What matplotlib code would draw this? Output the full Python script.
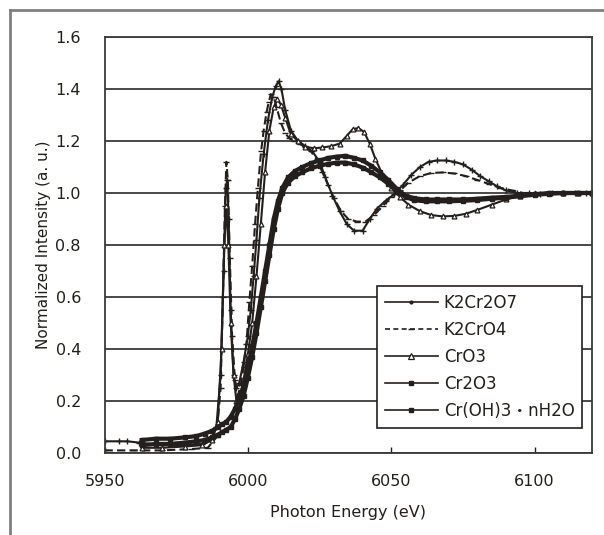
import matplotlib
matplotlib.use("Agg")
import matplotlib.pyplot as plt
from matplotlib.lines import Line2D

plt.rcParams['font.family'] = ['DejaVu Sans', 'Noto Sans CJK JP']

# ---------------- data ----------------
e_k2cr2o7 = [5950, 5955, 5958, 5962, 5970, 5978, 5984, 5987, 5989, 5990.5, 5991.5, 5992.3,
             5992.8, 5993.3, 5994, 5995, 5996, 5997, 5998.5, 6000, 6001, 6002, 6003, 6004,
             6005.5, 6007, 6008.5, 6009.7, 6010.7, 6011.7, 6013, 6015, 6017.5, 6020, 6022.5,
             6025, 6027, 6029.5, 6032, 6034.5, 6037, 6040, 6042.5, 6045, 6048, 6051, 6054,
             6057, 6060, 6063, 6066, 6069, 6072, 6075, 6078, 6081, 6084, 6087, 6090, 6094,
             6098, 6102, 6106, 6110, 6114, 6118, 6120]
i_k2cr2o7 = [0.045, 0.045, 0.045, 0.04, 0.03, 0.03, 0.035, 0.05, 0.1, 0.3, 0.7, 1.02,
             1.05, 0.9, 0.55, 0.3, 0.25, 0.27, 0.35, 0.45, 0.55, 0.68, 0.82, 0.98,
             1.15, 1.28, 1.37, 1.41, 1.43, 1.40, 1.32, 1.24, 1.2, 1.18, 1.16,
             1.12, 1.06, 0.99, 0.93, 0.88, 0.855, 0.855, 0.9, 0.94, 0.97, 0.995, 1.03,
             1.07, 1.10, 1.12, 1.125, 1.125, 1.12, 1.11, 1.09, 1.065, 1.045, 1.025, 1.01, 1.0,
             1.0, 0.995, 1.0, 1.0, 1.0, 1.0, 1.0]

e_k2cro4 = [5950, 5960, 5970, 5980, 5986, 5989, 5990.5, 5991.3, 5992, 5992.5, 5993, 5993.7,
            5994.5, 5995.5, 5996.5, 5997.5, 5998.5, 5999.5, 6000.5, 6001.5, 6002.5, 6003.5,
            6004.6, 6005.5, 6006.5, 6007.3, 6008, 6009, 6010, 6011.5, 6013, 6014.5, 6016,
            6018, 6020, 6022, 6024, 6026, 6028, 6030, 6032.5, 6035, 6038, 6041, 6044, 6047,
            6050, 6053, 6056, 6060, 6064, 6068, 6072, 6076, 6080, 6084, 6088, 6092, 6096,
            6100, 6105, 6110, 6115, 6120]
i_k2cro4 = [0.01, 0.01, 0.01, 0.015, 0.02, 0.06, 0.25, 0.6, 0.95, 1.12, 1.05, 0.75,
            0.45, 0.28, 0.22, 0.26, 0.33, 0.42, 0.58, 0.72, 0.88, 1.02,
            1.16, 1.24, 1.31, 1.35, 1.38, 1.37, 1.33, 1.27, 1.23, 1.21, 1.2,
            1.19, 1.175, 1.16, 1.13, 1.08, 1.03, 0.98, 0.93, 0.90, 0.89, 0.89, 0.915, 0.95,
            0.985, 1.01, 1.04, 1.065, 1.077, 1.079, 1.075, 1.065, 1.05, 1.035, 1.02, 1.01, 1.0,
            1.0, 1.0, 1.0, 1.0, 1.0]

e_cro3 = [5963, 5970, 5978, 5984, 5987.5, 5989.5, 5990.8, 5991.8, 5992.5, 5993.2, 5994, 5995,
          5996, 5997, 5998.5, 6000, 6001.5, 6003, 6004.5, 6006, 6007.5, 6009, 6010.3, 6011.5,
          6013, 6015, 6017.5, 6020, 6023, 6026, 6029, 6032, 6034.5, 6036.5, 6038.5, 6040.5,
          6042.5, 6044.5, 6047, 6050, 6053, 6056, 6060, 6064, 6068, 6072, 6076, 6080, 6085,
          6090, 6095, 6100, 6105, 6110, 6115, 6120]
i_cro3 = [0.02, 0.02, 0.025, 0.03, 0.05, 0.12, 0.4, 0.8, 0.95, 0.8, 0.5, 0.3,
          0.2, 0.2, 0.28, 0.38, 0.5, 0.68, 0.88, 1.08, 1.24, 1.33, 1.36, 1.34,
          1.29, 1.225, 1.2, 1.178, 1.172, 1.175, 1.18, 1.19, 1.22, 1.245, 1.25, 1.235,
          1.19, 1.13, 1.07, 1.02, 0.985, 0.955, 0.93, 0.915, 0.91, 0.912, 0.92, 0.935, 0.955,
          0.975, 0.99, 1.0, 1.0, 1.0, 1.0, 1.0]

e_cr2o3 = [5963, 5968, 5973, 5978, 5982, 5985, 5987.5, 5989.5, 5991, 5992.5, 5994, 5995.5,
           5997, 5998.5, 6000, 6001.5, 6003, 6004.5, 6006, 6007.5, 6009, 6010.5, 6012, 6014,
           6016.5, 6019, 6022, 6025, 6028, 6031, 6034, 6037, 6040, 6043, 6046, 6049, 6052,
           6055, 6058, 6062, 6066, 6070, 6075, 6080, 6085, 6090, 6095, 6100, 6105, 6110,
           6115, 6120]
i_cr2o3 = [0.05, 0.055, 0.055, 0.06, 0.065, 0.075, 0.085, 0.1, 0.11, 0.12, 0.14, 0.17,
           0.21, 0.26, 0.33, 0.41, 0.5, 0.6, 0.7, 0.8, 0.9, 0.97, 1.02, 1.06,
           1.085, 1.10, 1.115, 1.125, 1.135, 1.14, 1.143, 1.135, 1.125, 1.105, 1.08, 1.05, 1.015,
           0.99, 0.98, 0.975, 0.975, 0.975, 0.975, 0.978, 0.982, 0.985, 0.99, 0.995, 1.0, 1.0,
           1.0, 1.0]

e_croh3 = [5963, 5968, 5973, 5978, 5982, 5985, 5987.5, 5989.5, 5991, 5992.5, 5994, 5995.5,
           5997, 5998.5, 6000, 6001.5, 6003, 6004.5, 6006, 6007.5, 6009, 6010.5, 6012, 6014,
           6016.5, 6019, 6022, 6025, 6028, 6031, 6034, 6037, 6040, 6043, 6046, 6049, 6052,
           6055, 6058, 6062, 6066, 6070, 6075, 6080, 6085, 6090, 6095, 6100, 6105, 6110,
           6115, 6120]
i_croh3 = [0.03, 0.035, 0.035, 0.04, 0.045, 0.05, 0.06, 0.07, 0.08, 0.09, 0.1, 0.13,
           0.17, 0.22, 0.29, 0.37, 0.46, 0.56, 0.66, 0.76, 0.86, 0.94, 1.0, 1.04,
           1.065, 1.08, 1.095, 1.105, 1.112, 1.117, 1.117, 1.11, 1.098, 1.08, 1.06, 1.035, 1.005,
           0.985, 0.972, 0.968, 0.968, 0.968, 0.97, 0.973, 0.978, 0.982, 0.988, 0.993, 0.997, 1.0,
           1.0, 1.0]

labels = ["K2Cr2O7", "K2CrO4", "CrO3", "Cr2O3", "Cr(OH)3・nH2O"]
x_ticks = [5950, 6000, 6050, 6100]
y_ticks = [0.0, 0.2, 0.4, 0.6, 0.8, 1.0, 1.2, 1.4, 1.6]

# ---------------- figure ----------------
ink = '#231f1c'
fig = plt.figure(figsize=(6.04, 5.35), dpi=100)
ax = fig.add_axes([104.5 / 604, (535 - 453) / 535, (592 - 104.5) / 604, (453 - 37) / 535])

styles = [
    dict(lw=1.5, marker='+', ms=4, mew=1.0),
    dict(lw=1.5, ls=(0, (4, 2)), marker='_', ms=4, mew=1.0),
    dict(lw=1.5, marker='^', ms=3.5, mfc='white', mew=0.9),
    dict(lw=3.0, marker='s', ms=2.5),
    dict(lw=3.0, marker='s', ms=2.5),
]
series = [(e_k2cr2o7, i_k2cr2o7), (e_k2cro4, i_k2cro4), (e_cro3, i_cro3),
          (e_cr2o3, i_cr2o3), (e_croh3, i_croh3)]
for (ex, iy), st in zip(series, styles):
    ax.plot(ex, iy, color=ink, **st)

# legend handles (thin lines as in the reference legend)
handles = [
    Line2D([], [], color=ink, lw=1.2, marker='.', ms=4),
    Line2D([], [], color=ink, lw=1.2, ls=(0, (3, 2)), marker='_', ms=4),
    Line2D([], [], color=ink, lw=1.2, marker='^', ms=4, mfc='white', mew=0.9),
    Line2D([], [], color=ink, lw=1.2, marker='s', ms=2.5),
    Line2D([], [], color=ink, lw=1.2, marker='s', ms=2.5),
]

ax.set_xlim(5950, 6120)
ax.set_ylim(0.0, 1.6)
ax.set_xticks(x_ticks)
ax.set_xticklabels([str(t) for t in x_ticks])
ax.set_yticks(y_ticks)
ax.set_yticklabels([f"{t:.1f}" for t in y_ticks])
ax.tick_params(axis='x', direction='in', length=4, width=1, colors=ink, labelsize=11.5, pad=15)
ax.tick_params(axis='y', length=0, colors=ink, labelsize=11.5, pad=17)
ax.yaxis.grid(True, color='#3a3a3a', lw=1.3)
ax.set_axisbelow(True)
for s in ax.spines.values():
    s.set_color('#3a3a3a')
    s.set_linewidth(1.3)

ax.set_xlabel("Photon Energy (eV)", fontsize=11.5, color=ink, labelpad=12)
ax.set_ylabel("Normalized Intensity (a. u.)", fontsize=11, color=ink, labelpad=3)

leg = ax.legend(handles, labels, loc='upper left',
                bbox_to_anchor=((377 - 104.5) / 487.5, (453 - 286) / 416),
                fontsize=12, frameon=True, fancybox=False, edgecolor=ink,
                handlelength=3.2, handletextpad=0.35, labelspacing=0.55, borderpad=0.45,
                borderaxespad=0.0)
leg.get_frame().set_linewidth(1.2)
leg.get_frame().set_facecolor('white')
leg.get_frame().set_alpha(1)
for t in leg.get_texts():
    t.set_color(ink)

# outer frame (left and top edges visible)
fig.add_artist(Line2D([10 / 604, 10 / 604], [0, 525 / 535], transform=fig.transFigure,
                      color='#808080', lw=2))
fig.add_artist(Line2D([10 / 604, 1], [525 / 535, 525 / 535], transform=fig.transFigure,
                      color='#808080', lw=2))

fig.savefig("out.png", dpi=100)
